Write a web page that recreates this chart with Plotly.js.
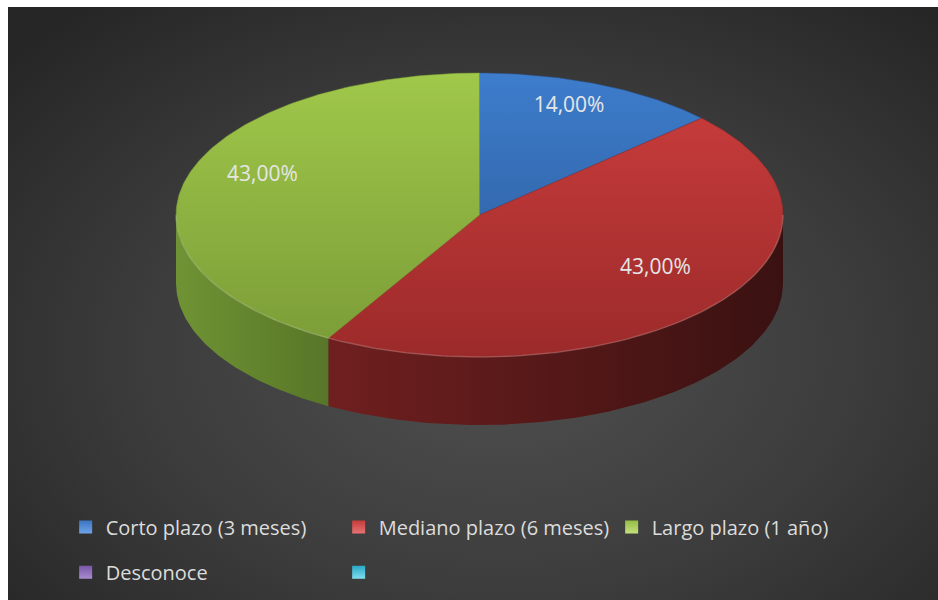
<!DOCTYPE html>
<html><head><meta charset="utf-8">
<script src="https://cdn.plot.ly/plotly-3.0.1.min.js"></script>
<style>
html,body{margin:0;padding:0;background:#fff;}
#wrap{position:absolute;left:8px;top:7px;width:930px;height:593px;
background:radial-gradient(ellipse 70% 75% at 53% 58%, #505050 0%, #3c3c3c 55%, #262626 100%);}
#chart{width:930px;height:593px;}
</style></head><body><div id="wrap"><div id="chart"></div></div>
<script>
// ---- data ----
const categories = ['Corto plazo (3 meses)', 'Mediano plazo (6 meses)', 'Largo plazo (1 año)', 'Desconoce', ' '];
const values = [14, 43, 43, 0, 0];

// ---- style ----
const topColors = [['#3d7dcc', '#2a5592'], ['#cc3e3d', '#9c2a2a'], ['#a0c84a', '#7a9b37'], ['#8060b0', '#5a3f80'], ['#30b4d0', '#1f8098']];
const sideColors = [['#2a5592', '#1a3560'], ['#701f1f', '#3a1111'], ['#6f9334', '#587628'], ['#5a3f80', '#3a2855'], ['#1f8098', '#15566a']];
const legendColors = ['#3b76c2', '#c63b3b', '#94bd45', '#7856a6', '#2aa8c4'];
const legendLight = ['#6fa3e6', '#e77373', '#c4e07e', '#a88bd0', '#7fdcf0'];
const CX = 471.5, CY = 208, RX = 303.5, RY = 142, DEPTH = 68;
const PERSP = 5;          // viewing distance (in radii) for the 3D perspective look
const LABEL_R = 0.74, LABEL_DY = -12;
const FONT = 'Open Sans, Noto Sans, sans-serif';

const total = values.reduce((a, b) => a + b, 0);
// true angle (deg clockwise from 12 o'clock) -> projected angle on the ellipse
function warp(phi) {
  const r = phi * Math.PI / 180;
  const s = PERSP / (PERSP + Math.cos(r));
  let psi = Math.atan2(Math.sin(r) * s, Math.cos(r)) * 180 / Math.PI;
  while (psi < phi - 180) psi += 360;
  while (psi > phi + 180) psi -= 360;
  return psi;
}
function pt(psi, dy) {
  const r = psi * Math.PI / 180;
  return [CX + RX * Math.sin(r), CY - RY * Math.cos(r) + (dy || 0)];
}
function arc(a0, a1, dy) {
  const xs = [], ys = [];
  const n = Math.max(2, Math.ceil(Math.abs(a1 - a0)));
  for (let i = 0; i <= n; i++) {
    const p = pt(a0 + (a1 - a0) * i / n, dy);
    xs.push(p[0]); ys.push(p[1]);
  }
  return [xs, ys];
}

const sides = [], tops = [], labels = {x: [], y: [], text: []}, legendTraces = [];
let acc = 0;
values.forEach((v, i) => {
  const a0 = warp(acc / total * 360), a1 = warp((acc + v) / total * 360);
  acc += v;
  if (v > 0) {
    const [ax, ay] = arc(a0, a1, 0);
    tops.push({
      type: 'scatter', mode: 'lines', x: [CX, ...ax, CX], y: [CY, ...ay, CY],
      fill: 'toself', line: {width: 0.5, color: topColors[i][1]}, showlegend: false, hoverinfo: 'skip',
      fillcolor: topColors[i][0],
      fillgradient: {type: 'vertical', start: CY - RY, stop: CY + RY,
        colorscale: [[0, topColors[i][0]], [1, topColors[i][1]]]}
    });
    const s = Math.max(a0, 90), e = Math.min(a1, 270);
    if (e > s) {
      const [tx, ty] = arc(s, e, 0);
      const [bx, by] = arc(e, s, DEPTH);
      sides.push({
        type: 'scatter', mode: 'lines', x: [...tx, ...bx, tx[0]], y: [...ty, ...by, ty[0]],
        fill: 'toself', line: {width: 0}, showlegend: false, hoverinfo: 'skip',
        fillcolor: sideColors[i][0],
        fillgradient: {type: 'horizontal', colorscale: [[0, sideColors[i][0]], [1, sideColors[i][1]]]}
      });
    }
    const lp = pt((a0 + a1) / 2, 0);
    labels.x.push(CX + (lp[0] - CX) * LABEL_R);
    labels.y.push(CY + (lp[1] - CY) * LABEL_R + LABEL_DY);
    labels.text.push(v.toFixed(2).replace('.', ',') + '%');
  }
  legendTraces.push({
    type: 'scatter', mode: 'markers', x: [null], y: [null], name: categories[i],
    legend: i < 3 ? 'legend' : 'legend2', hoverinfo: 'skip',
    marker: {symbol: 'square', size: 13, color: legendColors[i],
      gradient: {type: 'vertical', color: legendLight[i]}, line: {width: 0}}
  });
});

const [rx, ry] = arc(90, 270, 0);
const rim = {type: 'scatter', mode: 'lines', x: rx, y: ry, line: {width: 1.5, color: 'rgba(255,255,255,0.18)'},
  showlegend: false, hoverinfo: 'skip'};

const labelTrace = {type: 'scatter', mode: 'text', x: labels.x, y: labels.y, text: labels.text,
  textfont: {family: FONT, size: 21, color: '#e6e6e6'}, showlegend: false, hoverinfo: 'skip'};

const legendBase = {orientation: 'h', xanchor: 'left', yanchor: 'middle', entrywidth: 228, entrywidthmode: 'pixels',
  bgcolor: 'rgba(0,0,0,0)', font: {family: FONT, size: 20, color: '#dcdcdc'}, itemclick: false};

const layout = {
  width: 930, height: 593, margin: {l: 0, r: 0, t: 0, b: 0},
  paper_bgcolor: 'rgba(0,0,0,0)', plot_bgcolor: 'rgba(0,0,0,0)',
  xaxis: {range: [0, 930], visible: false, fixedrange: true},
  yaxis: {range: [593, 0], visible: false, fixedrange: true},
  showlegend: true,
  legend: Object.assign({}, legendBase, {x: 0.062, y: 0.123}),
  legend2: Object.assign({}, legendBase, {x: 0.062, y: 0.047}),
  hovermode: false
};

Plotly.newPlot('chart', [...sides, ...tops, rim, labelTrace, ...legendTraces], layout, {displayModeBar: false, staticPlot: true});
</script></body></html>
